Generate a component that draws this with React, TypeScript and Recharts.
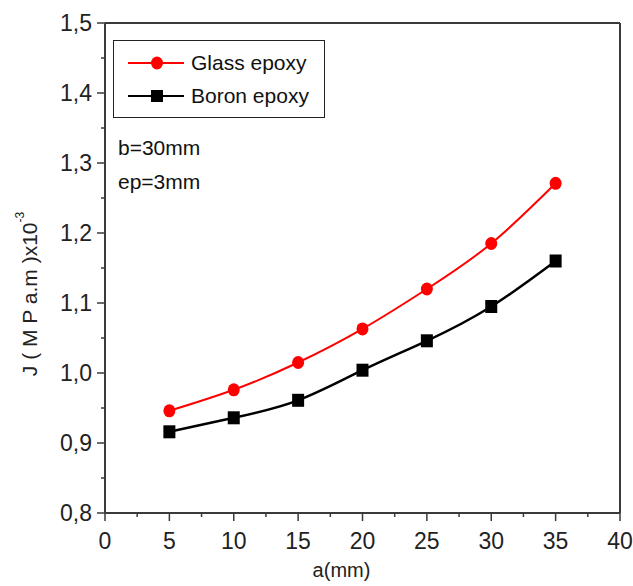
import React from "react";
import {
  LineChart,
  Line,
  XAxis,
  YAxis,
  Legend,
  ReferenceLine,
} from "recharts";

const aValues = [5, 10, 15, 20, 25, 30, 35];
const glassEpoxy = [0.946, 0.976, 1.015, 1.063, 1.12, 1.185, 1.271];
const boronEpoxy = [0.916, 0.936, 0.961, 1.004, 1.046, 1.095, 1.16];

const xMajorTicks = [0, 5, 10, 15, 20, 25, 30, 35, 40];
const xMinorTicks = [2.5, 7.5, 12.5, 17.5, 22.5, 27.5, 32.5, 37.5];
const yMajorTicks = [0.8, 0.9, 1.0, 1.1, 1.2, 1.3, 1.4, 1.5];
const yMinorTicks = [0.85, 0.95, 1.05, 1.15, 1.25, 1.35, 1.45];

const RED = "#ff0000";
const BLACK = "#000000";
const AXIS = "#3a3a3a";
const FONT = "'Liberation Sans', Arial, sans-serif";

const data = aValues.map((a, i) => ({
  a,
  glass: glassEpoxy[i],
  boron: boronEpoxy[i],
}));

const xTicks = [...xMajorTicks, ...xMinorTicks].sort((p, q) => p - q);
const yTicks = [...yMajorTicks, ...yMinorTicks].sort((p, q) => p - q);

function XTick({ x, y, payload }: any) {
  const major = xMajorTicks.includes(payload.value);
  return (
    <g>
      <line x1={x} x2={x} y1={y} y2={y + (major ? 8 : 4)} stroke={AXIS} strokeWidth={1.5} />
      {major && (
        <text x={x} y={y + 36} textAnchor="middle" fontSize={23} fill="#222" fontFamily={FONT}>
          {payload.value}
        </text>
      )}
    </g>
  );
}

function YTick({ x, y, payload }: any) {
  const major = yMajorTicks.some((t) => Math.abs(t - payload.value) < 1e-9);
  return (
    <g>
      <line x1={x - (major ? 8 : 4)} x2={x} y1={y} y2={y} stroke={AXIS} strokeWidth={1.5} />
      {major && (
        <text x={x - 13} y={y + 8} textAnchor="end" fontSize={23} fill="#222" fontFamily={FONT}>
          {payload.value.toFixed(1).replace(".", ",")}
        </text>
      )}
    </g>
  );
}

function CircleDot({ cx, cy }: any) {
  return <ellipse cx={cx} cy={cy} rx={6} ry={6.5} fill={RED} />;
}

function SquareDot({ cx, cy }: any) {
  return <rect x={cx - 6} y={cy - 6.5} width={12} height={13} fill={BLACK} />;
}

function YLabel({ viewBox }: any) {
  const cx = viewBox.x + 29;
  const cy = viewBox.y + viewBox.height / 2 + 26;
  return (
    <text
      x={cx}
      y={cy}
      transform={`rotate(-90 ${cx} ${cy})`}
      textAnchor="middle"
      dominantBaseline="central"
      fontSize={21}
      fill="#222"
      fontFamily={FONT}
    >
      J ( M P a.m )x10
      <tspan fontSize={12} dy={-9}>-3</tspan>
    </text>
  );
}

function LegendBox() {
  const rows = [
    { name: "Glass epoxy", color: RED, shape: "circle" },
    { name: "Boron epoxy", color: BLACK, shape: "square" },
  ];
  return (
    <div style={{ fontFamily: FONT, color: "#111" }}>
      <div
        style={{
          width: 212,
          height: 78,
          border: "1.5px solid #222",
          boxSizing: "border-box",
          paddingTop: 5,
        }}
      >
        {rows.map((r) => (
          <div key={r.name} style={{ display: "flex", alignItems: "center", height: 33 }}>
            <svg width={76} height={20} style={{ marginLeft: 14 }}>
              <line x1={0} x2={56} y1={10} y2={10} stroke={r.color} strokeWidth={2} />
              {r.shape === "circle" ? (
                <ellipse cx={29} cy={10} rx={6} ry={6.5} fill={r.color} />
              ) : (
                <rect x={23} y={4} width={12} height={12} fill={r.color} />
              )}
            </svg>
            <span style={{ fontSize: 21, marginLeft: -13 }}>{r.name}</span>
          </div>
        ))}
      </div>
      <div style={{ fontSize: 21, marginLeft: 5, marginTop: 13, lineHeight: "34px" }}>
        <div>b=30mm</div>
        <div>ep=3mm</div>
      </div>
    </div>
  );
}

export default function App() {
  return (
    <div style={{ position: "absolute", left: 0, top: 0, background: "#fff" }}>
      <LineChart
        width={633}
        height={586}
        data={data}
        margin={{ top: 23, right: 13, left: 0, bottom: 0 }}
      >
        <XAxis
          dataKey="a"
          type="number"
          domain={[0, 40]}
          ticks={xTicks}
          interval={0}
          height={73}
          tickSize={0}
          tickMargin={0}
          tickLine={false}
          axisLine={{ stroke: AXIS, strokeWidth: 2 }}
          tick={<XTick />}
          label={{
            value: "a(mm)",
            position: "insideBottom",
            dx: -21,
            dy: -4,
            fontSize: 20,
            fill: "#222",
            fontFamily: FONT,
          }}
        />
        <YAxis
          type="number"
          domain={[0.8, 1.5]}
          ticks={yTicks}
          interval={0}
          width={105}
          tickSize={0}
          tickMargin={0}
          tickLine={false}
          axisLine={{ stroke: AXIS, strokeWidth: 2 }}
          tick={<YTick />}
          label={<YLabel />}
        />
        <ReferenceLine y={1.5} stroke={AXIS} strokeWidth={2} ifOverflow="visible" />
        <ReferenceLine x={40} stroke={AXIS} strokeWidth={2} ifOverflow="visible" />
        <Legend
          layout="horizontal"
          verticalAlign="middle"
          align="center"
          content={<LegendBox />}
          wrapperStyle={{ left: 113, top: 40, width: 260, height: 160 }}
        />
        <Line
          type="natural"
          dataKey="glass"
          name="Glass epoxy"
          stroke={RED}
          strokeWidth={2}
          dot={<CircleDot />}
          isAnimationActive={false}
        />
        <Line
          type="natural"
          dataKey="boron"
          name="Boron epoxy"
          stroke={BLACK}
          strokeWidth={2.5}
          dot={<SquareDot />}
          isAnimationActive={false}
        />
      </LineChart>
    </div>
  );
}
